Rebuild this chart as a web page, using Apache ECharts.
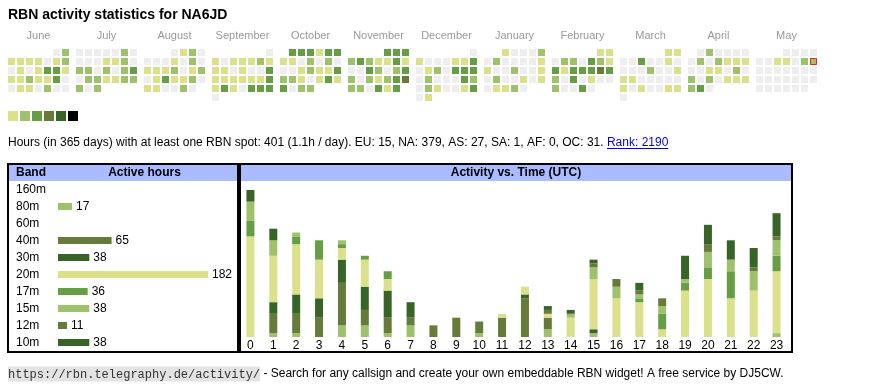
<!DOCTYPE html>
<html><head><meta charset="utf-8">
<script src="https://cdn.jsdelivr.net/npm/echarts@6/dist/echarts.min.js"></script>
<style>html,body{margin:0;padding:0;background:#fff}#c{width:870px;height:390px}</style>
</head><body><div id="c"></div>
<script>
// ---------- heatmap (calendar) data ----------
const monthKeys = ['2024-06','2024-07','2024-08','2024-09','2024-10','2024-11','2024-12','2025-01','2025-02','2025-03','2025-04','2025-05'];
const monthNames = ['June','July','August','September','October','November','December','January','February','March','April','May'];
// activity level per day (0 = none, 1..6 = legend colour index)
const lvJun = [0,2, 1,1,1,1,0,1,2, 0,1,0,1,3,3,1, 1,1,2,1,1,3,0, 0,1,1,0,2,0,0];
const lvJul = [0,0,0,0,0,2,0, 0,0,0,1,1,2,0, 2,2,0,2,0,2,3, 0,2,2,1,1,2,2, 2,0,2];
const lvAug = [0,1,2,0, 0,0,0,1,0,2,0, 1,1,1,2,0,1,2, 0,1,3,1,1,2,0, 1,1,0,0,2,0];
const lvSep = [0, 1,0,1,1,1,2,1, 1,1,0,1,0,0,3, 1,1,1,1,1,1,3, 1,3,1,0,3,3,3, 0];
const lvOct = [3,3,3,1,3,3, 1,1,0,2,0,2,0, 0,0,1,2,1,1,3, 2,2,1,0,1,3,1, 3,0,2,2];
const lvNov = [3,3,3, 2,3,2,1,1,3,1, 0,0,3,2,0,2,3, 2,0,2,1,2,3,4, 2,2,0,3,1,3];
const lvDec = [0, 1,0,0,0,1,1,3, 0,1,2,0,3,3,3, 0,2,0,0,0,3,2, 0,2,1,0,0,1,3, 0,1];
const lvJan = [1,0,0,0,2, 0,2,0,0,0,0,1, 1,0,0,2,0,0,1, 0,2,0,0,1,0,1, 0,1,1,2,0];
const lvFeb = [1,1, 0,2,2,0,3,2,1, 3,1,3,3,3,4,3, 2,0,3,0,1,0,0, 2,0,0,3,0];
const lvMar = [1,1, 0,0,3,0,0,1,0, 0,0,0,2,0,0,1, 1,1,0,0,0,0,0, 1,0,1,0,0,1,1, 0];
const lvApr = [0,2,0,0,0,0, 0,2,0,2,1,1,1, 0,0,1,1,0,2,0, 2,0,2,0,1,1,1, 2,3,0];
const lvMay = [0,0,0,0, 0,0,1,1,0,2,2, 0,0,0,0,0,0,0, 0,0,0,0,0,0,0, 0,0,0,0,0,0];
const monthLevels = [lvJun,lvJul,lvAug,lvSep,lvOct,lvNov,lvDec,lvJan,lvFeb,lvMar,lvApr,lvMay];
const today = '2025-05-11';
const todayLevel = 2;

// ---------- band table ----------
const bands = ['160m','80m','60m','40m','30m','20m','17m','15m','12m','10m'];
const bandHours = [0,17,0,65,38,182,36,38,11,38];

// ---------- activity vs time (UTC), per band ----------
const hours = ['0','1','2','3','4','5','6','7','8','9','10','11','12','13','14','15','16','17','18','19','20','21','22','23'];
const h160 = [0,0,0,0,0,0,0,0,0,0,0,0,0,0,0,0,0,0,0,0,0,0,0,0];
const h80  = [0,1,1,0,3,3,1,3,0,0,1,0,0,2,0,1,0,0,0,0,0,0,0,1];
const h60  = [0,0,0,0,0,0,0,0,0,0,0,0,0,0,0,0,0,0,0,0,0,0,0,0];
const h40  = [0,5,5,5,11,4,4,2,3,5,3,5,10,3,0,0,0,0,0,0,0,0,0,0];
const h30  = [0,3,5,5,6,6,7,4,0,0,0,0,1,0,0,1,0,0,0,0,0,0,0,0];
const h20  = [26,12,13,10,3,7,3,0,0,0,0,1,2,1,5,13,10,9,2,12,15,10,12,16];
const h17  = [4,0,2,5,1,1,2,0,0,0,0,0,0,0,0,0,0,1,4,2,3,7,0,4];
const h15  = [5,4,1,0,1,0,0,0,0,0,0,0,0,0,1,3,3,1,2,1,4,3,5,4];
const h12  = [0,0,0,0,0,0,0,0,0,0,0,0,0,1,0,1,2,1,2,0,2,0,1,1];
const h10  = [3,3,0,0,0,0,0,0,0,0,0,0,0,1,1,1,0,2,0,6,5,5,5,6];
const hourly = [h160,h80,h60,h40,h30,h20,h17,h15,h12,h10];

// ---------- texts ----------
const titleText = 'RBN activity statistics for NA6JD';
const statsText = 'Hours (in 365 days) with at least one RBN spot: 401 (1.1h / day). EU: 15, NA: 379, AS: 27, SA: 1, AF: 0, OC: 31. ';
const rankText = 'Rank: 2190';
const footUrl = 'https://rbn.telegraphy.de/activity/';
const footText = ' - Search for any callsign and create your own embeddable RBN widget! A free service by DJ5CW.';

// ---------- styles ----------
const levelColors = ['#dae18a','#9dc26b','#669e46','#667a3a','#386428','#000000'];
const emptyColor = '#eeeeee';
const bandColors = ['#dae18a','#9dc26b','#669e46','#667a3a','#386428','#dae18a','#669e46','#9dc26b','#667a3a','#386428'];
const FONT = '"Liberation Sans", Arial, sans-serif';
const MONO = '"Liberation Mono", "Courier New", monospace';
const headBlue = '#aabbff';

function pad(n){return n<10?'0'+n:''+n;}

const calendars = monthKeys.map((k,i)=>({
  orient:'vertical', range:k, left:7+68*i, top:48, cellSize:[9,9],
  splitLine:{show:false},
  itemStyle:{color:'rgba(0,0,0,0)', borderWidth:0},
  dayLabel:{show:false, firstDay:1}, monthLabel:{show:false}, yearLabel:{show:false}
}));

const daySeries = monthKeys.map((k,i)=>({
  type:'scatter', coordinateSystem:'calendar', calendarIndex:i, symbol:'rect', symbolSize:7,
  data: monthLevels[i].map((lv,d)=>[k+'-'+pad(d+1), lv]),
  itemStyle:{borderWidth:0, opacity:1}, emphasis:{disabled:true}
}));

const todaySeries = {type:'scatter', coordinateSystem:'calendar', calendarIndex:11,
  data:[[today,todayLevel]], symbol:'rect', symbolSize:6, z:5,
  itemStyle:{color:levelColors[todayLevel-1], borderColor:'#ff0000', borderWidth:1}};

const hourSeries = bands.map((b,i)=>({type:'bar', name:b, xAxisIndex:0, yAxisIndex:0, stack:'h',
  barWidth:8, data:hourly[i], itemStyle:{color:bandColors[i]}}));

const bandSeries = {type:'bar', xAxisIndex:1, yAxisIndex:1, barWidth:7,
  data: bandHours.map((v,i)=>({value:v, itemStyle:{color:bandColors[i]}})),
  label:{show:true, position:'right', distance:4, color:'#000', fontSize:12, fontFamily:FONT,
    formatter:p=> p.value>0 ? String(p.value) : ''}};

// measure for link underline
const cv=document.createElement('canvas').getContext('2d');
cv.font='12px '+FONT;
const w1=cv.measureText(statsText).width, w2=cv.measureText(rankText).width;

const graphics = [
  {type:'text', x:8, y:15, style:{text:titleText, fill:'#000', fontSize:14, fontWeight:'bold', fontFamily:FONT, verticalAlign:'middle'}},
  ...monthNames.map((m,i)=>({type:'text', x:38.5+68*i, y:35.5, style:{text:m, fill:'#999999', fontSize:11, fontFamily:FONT, align:'center', verticalAlign:'middle'}})),
  {type:'text', x:8, y:143, style:{text:'{a|'+statsText+'}{b|'+rankText+'}', fontSize:12, fontFamily:FONT, verticalAlign:'middle',
     rich:{a:{fill:'#000', fontSize:12, fontFamily:FONT}, b:{fill:'#0000ee', fontSize:12, fontFamily:FONT}}}},
  {type:'line', shape:{x1:8+w1, y1:148.5, x2:8+w1+w2, y2:148.5}, style:{stroke:'#0000ee', lineWidth:1}},
  // left panel
  {type:'rect', shape:{x:9,y:165,width:228,height:16}, style:{fill:headBlue}},
  {type:'rect', shape:{x:8,y:164,width:230,height:188}, style:{fill:null, stroke:'#000', lineWidth:2}},
  {type:'text', x:16, y:173, style:{text:'Band', fill:'#000', fontSize:12, fontWeight:'bold', fontFamily:FONT, verticalAlign:'middle'}},
  {type:'text', x:144.5, y:173, style:{text:'Active hours', fill:'#000', fontSize:12, fontWeight:'bold', fontFamily:FONT, align:'center', verticalAlign:'middle'}},
  // right panel
  {type:'rect', shape:{x:241,y:165,width:550,height:16}, style:{fill:headBlue}},
  {type:'rect', shape:{x:240,y:164,width:552,height:188}, style:{fill:null, stroke:'#000', lineWidth:2}},
  {type:'text', x:516, y:173, style:{text:'Activity vs. Time (UTC)', fill:'#000', fontSize:12, fontWeight:'bold', fontFamily:FONT, align:'center', verticalAlign:'middle'}},
  // footer
  {type:'text', x:8, y:374, style:{text:'{m|'+footUrl+'}{t|'+footText+'}', verticalAlign:'middle',
     rich:{m:{fontFamily:MONO, fontSize:12, fill:'#333', backgroundColor:'#e3e3e3', padding:[2,0,1,0]},
           t:{fontFamily:FONT, fontSize:12, fill:'#000'}}}}
];

const chart = echarts.init(document.getElementById('c'), null, {renderer:'canvas', width:870, height:390});
chart.setOption({
  animation:false,
  backgroundColor:'#ffffff',
  calendar: calendars,
  visualMap: {type:'piecewise', seriesIndex:[0,1,2,3,4,5,6,7,8,9,10,11], dimension:1,
    pieces: levelColors.map((c,i)=>({value:i+1, color:c})),
    outOfRange:{color:emptyColor},
    orient:'horizontal', left:8, top:111, padding:0, itemWidth:10, itemHeight:10, itemGap:2,
    itemSymbol:'rect', showLabel:false, selectedMode:false, textGap:0},
  grid: [
    {left:239, top:190, width:549, height:147},
    {left:58, top:181, width:150, height:170}
  ],
  xAxis: [
    {gridIndex:0, type:'category', data:hours, axisLine:{show:false}, axisTick:{show:false}, splitLine:{show:false},
      axisLabel:{color:'#000', fontSize:12, fontFamily:FONT, margin:3, interval:0}},
    {gridIndex:1, type:'value', min:0, max:'dataMax', show:false}
  ],
  yAxis: [
    {gridIndex:0, type:'value', min:0, max:'dataMax', show:false},
    {gridIndex:1, type:'category', data:bands, inverse:true, axisLine:{show:false}, axisTick:{show:false}, splitLine:{show:false},
      axisLabel:{color:'#000', fontSize:12, fontFamily:FONT, align:'left', margin:42, interval:0}}
  ],
  series: [...daySeries, todaySeries, ...hourSeries, bandSeries],
  graphic: graphics
});
</script></body></html>
